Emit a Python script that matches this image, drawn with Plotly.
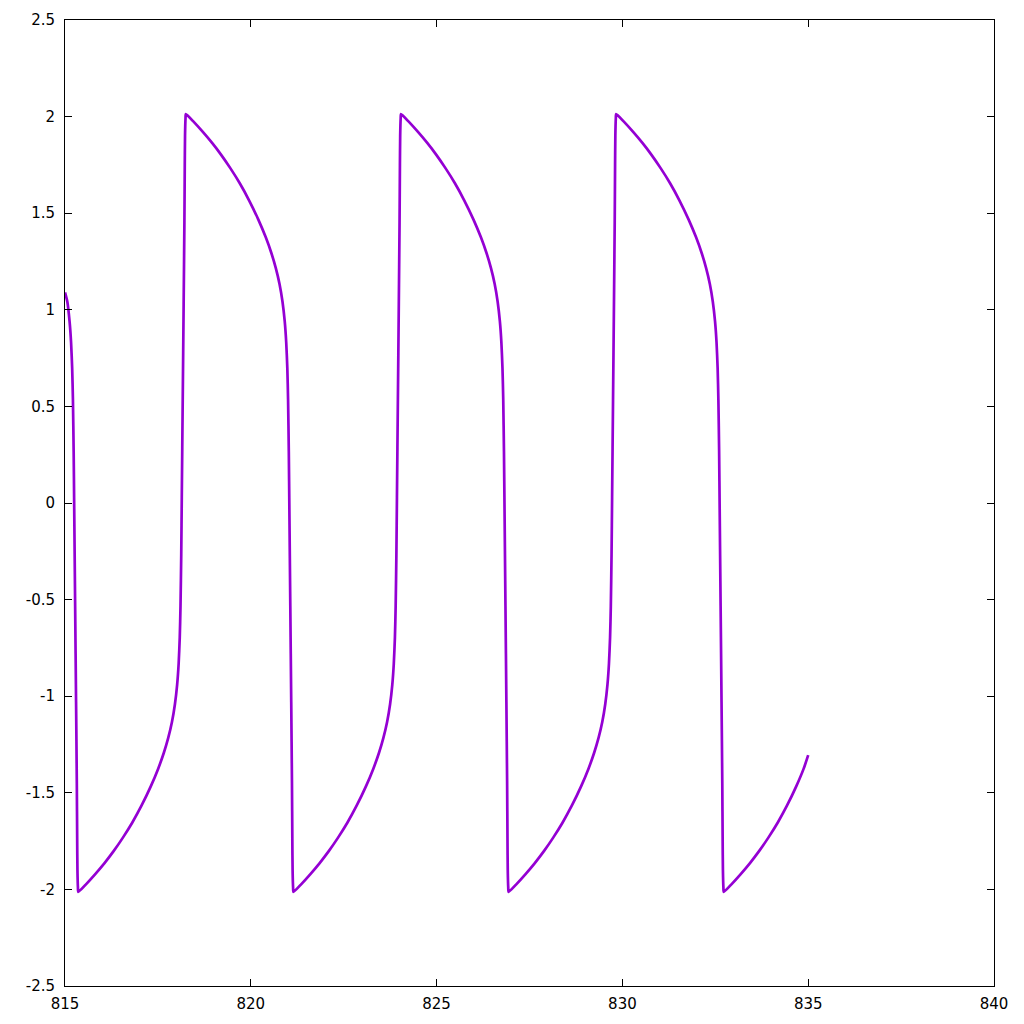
import plotly.graph_objects as go

# Curve samples (x = time, y = signal), branch by branch
x_start = [815.000, 815.063, 815.123, 815.163, 815.193, 815.213, 815.233, 815.248,
           815.273, 815.298, 815.318, 815.328, 815.335, 815.348]
y_start = [1.09, 1.042, 0.94, 0.832, 0.697, 0.537, 0.267, -0.03, -0.53, -1.03, -1.45, -1.75, -1.90, -1.99]

x_rise1 = [815.358, 815.558, 815.808, 816.058, 816.308, 816.558, 816.808, 817.058, 817.308,
           817.508, 817.658, 817.778, 817.878, 817.958, 818.018, 818.058, 818.088, 818.108,
           818.128, 818.143, 818.168, 818.193, 818.213, 818.223, 818.230, 818.243]
x_fall1 = [818.253, 818.453, 818.703, 818.953, 819.203, 819.453, 819.703, 819.953, 820.203,
           820.403, 820.553, 820.673, 820.773, 820.853, 820.913, 820.953, 820.983, 821.003,
           821.023, 821.038, 821.063, 821.088, 821.108, 821.118, 821.125, 821.138]
x_rise2 = [821.148, 821.348, 821.598, 821.848, 822.098, 822.348, 822.598, 822.848, 823.098,
           823.298, 823.448, 823.568, 823.668, 823.748, 823.808, 823.848, 823.878, 823.898,
           823.918, 823.933, 823.958, 823.983, 824.003, 824.013, 824.020, 824.033]
x_fall2 = [824.043, 824.243, 824.493, 824.743, 824.993, 825.243, 825.493, 825.743, 825.993,
           826.193, 826.343, 826.463, 826.563, 826.643, 826.703, 826.743, 826.773, 826.793,
           826.813, 826.828, 826.853, 826.878, 826.898, 826.908, 826.915, 826.928]
x_rise3 = [826.938, 827.138, 827.388, 827.638, 827.888, 828.138, 828.388, 828.638, 828.888,
           829.088, 829.238, 829.358, 829.458, 829.538, 829.598, 829.638, 829.668, 829.688,
           829.708, 829.723, 829.748, 829.773, 829.793, 829.803, 829.810, 829.823]
x_fall3 = [829.833, 830.033, 830.283, 830.533, 830.783, 831.033, 831.283, 831.533, 831.783,
           831.983, 832.133, 832.253, 832.353, 832.433, 832.493, 832.533, 832.563, 832.583,
           832.603, 832.618, 832.643, 832.668, 832.688, 832.698, 832.705, 832.718]
x_end = [832.728, 832.928, 833.178, 833.428, 833.678, 833.928, 834.178, 834.428, 834.678,
         834.878, 835.000]

y_rise = [-2.013, -1.975, -1.922, -1.865, -1.802, -1.732, -1.655, -1.567, -1.467,
          -1.375, -1.294, -1.216, -1.134, -1.042, -0.94, -0.832, -0.697, -0.537,
          -0.267, 0.03, 0.53, 1.03, 1.45, 1.75, 1.90, 1.99]
y_fall = [2.013, 1.975, 1.922, 1.865, 1.802, 1.732, 1.655, 1.567, 1.467,
          1.375, 1.294, 1.216, 1.134, 1.042, 0.94, 0.832, 0.697, 0.537,
          0.267, -0.03, -0.53, -1.03, -1.45, -1.75, -1.90, -1.99]
y_end = [-2.013, -1.975, -1.922, -1.865, -1.802, -1.732, -1.655, -1.567, -1.467,
         -1.375, -1.305]

x_tick_vals = [815, 820, 825, 830, 835, 840]
x_tick_text = ["815", "820", "825", "830", "835", "840"]
y_tick_vals = [-2.5, -2, -1.5, -1, -0.5, 0, 0.5, 1, 1.5, 2, 2.5]
y_tick_text = ["-2.5", "-2", "-1.5", "-1", "-0.5", "0", "0.5", "1", "1.5", "2", "2.5"]

x_all = (x_start + x_rise1 + x_fall1 + x_rise2 + x_fall2 + x_rise3 + x_fall3 + x_end)
y_all = (y_start + y_rise + y_fall + y_rise + y_fall + y_rise + y_fall + y_end)

fig = go.Figure()
fig.add_trace(go.Scatter(
    x=x_all, y=y_all, mode="lines",
    line=dict(color="#9400D3", width=2.7, shape="spline", smoothing=0.6),
    showlegend=False, hoverinfo="skip",
))

axis_common = dict(
    showline=True, linecolor="black", linewidth=1, mirror="ticks",
    ticks="inside", ticklen=7, tickwidth=1, tickcolor="black",
    showgrid=False, zeroline=False, automargin=False,
    tickfont=dict(family="DejaVu Sans", size=15, color="black"),
)

fig.update_layout(
    width=1024, height=1024,
    paper_bgcolor="white", plot_bgcolor="white",
    margin=dict(l=57, r=38, t=12, b=46, pad=0),
    xaxis=dict(range=[815, 840], tickvals=x_tick_vals, ticktext=x_tick_text,
               ticklabelstandoff=4, **axis_common),
    yaxis=dict(range=[-2.5, 2.5], tickvals=y_tick_vals, ticktext=y_tick_text,
               ticklabelstandoff=6, **axis_common),
)

fig.write_html("out.html")
